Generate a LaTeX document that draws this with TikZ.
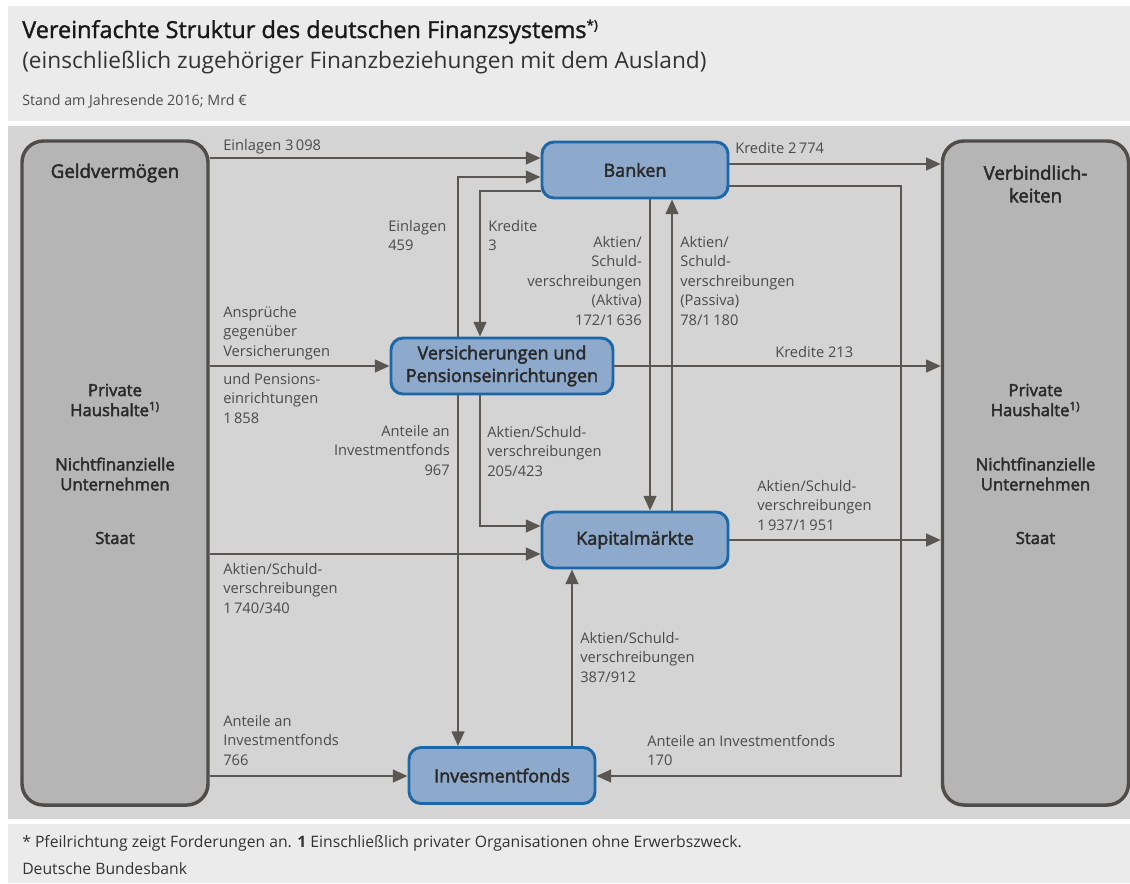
\documentclass[tikz,border=0pt]{standalone}
\usepackage{fontspec}
\setmainfont{Open Sans}
\newfontfamily\sbf[FakeBold=2.5]{Open Sans}
\newfontfamily\tbf[FakeBold=1.5]{Open Sans}
\usetikzlibrary{arrows.meta}
\definecolor{panelc}{HTML}{D4D4D4}
\definecolor{headc}{HTML}{EBEBEB}
\definecolor{grayfill}{HTML}{B5B5B5}
\definecolor{grayline}{HTML}{4F4D4A}
\definecolor{bluefill}{HTML}{8DA9CC}
\definecolor{blueline}{HTML}{1B67A7}
\definecolor{arrc}{HTML}{5A5651}
\definecolor{lblc}{HTML}{4A4A4A}
\definecolor{nodetxt}{HTML}{2A2A2A}
\tikzset{
  arr/.style={draw=arrc, line width=1.7pt, -{Triangle[length=11pt,width=9.5pt]}},
  lbl/.style={inner sep=0pt, text=lblc, font=\fontsize{11}{14.6}\selectfont, align=left, anchor=north west},
  lblr/.style={lbl, align=right, anchor=north east},
  bluebox/.style={draw=blueline, fill=bluefill, line width=2.2pt, rounded corners=9pt,
    minimum width=139.5pt, minimum height=42pt, text=nodetxt, align=center,
    font=\sbf\fontsize{13.5}{17}\selectfont},
  graybox/.style={draw=grayline, fill=grayfill, line width=2.6pt, rounded corners=16pt,
    minimum width=139.5pt, minimum height=498pt},
  boxtxt/.style={text=nodetxt, align=center, font=\sbf\fontsize{12.5}{15}\selectfont, inner sep=0pt}
}
\begin{document}
\begin{tikzpicture}[x=0.75pt,y=-0.75pt]
\useasboundingbox (0,0) rectangle (1130,883);
\fill[white] (0,0) rectangle (1130,883);
\fill[headc] (8,6) rectangle (1130,121);
\fill[panelc] (8,126) rectangle (1130,819);
\fill[headc] (8,824) rectangle (1130,883);

% title
\node[anchor=base west, inner sep=0pt, text=black!90, font=\tbf\fontsize{17.6}{20}\selectfont] (title) at (22,38)
  {Vereinfachte Struktur des deutschen Finanzsystems\textsuperscript{\fontsize{10}{10}\selectfont *)}};
\node[anchor=base west, inner sep=0pt, text=black!80, font=\fontsize{17}{20}\selectfont] (subtitle) at (22,68)
  {(einschließlich zugehöriger Finanzbeziehungen mit dem Ausland)};
\node[anchor=base west, inner sep=0pt, text=black!70, font=\fontsize{10.7}{12}\selectfont] (stand) at (22,105)
  {Stand am Jahresende 2016; Mrd €};

% big boxes
\node[graybox] (gv) at (115,473) {};
\node[graybox] (vb) at (1035.5,473) {};
\node[boxtxt, font=\sbf\fontsize{14}{17}\selectfont] (gvt) at (115,173) {Geldvermögen};
\node[boxtxt] (gvph) at (115,400) {Private\\Haushalte\textsuperscript{1)}};
\node[boxtxt] (gvnu) at (115,474) {Nichtfinanzielle\\Unternehmen};
\node[boxtxt] (gvst) at (115,538) {Staat};
\node[boxtxt, font=\sbf\fontsize{14}{17}\selectfont] (vbt) at (1035.5,184) {Verbindlich-\\keiten};
\node[boxtxt] (vbph) at (1035.5,400) {Private\\Haushalte\textsuperscript{1)}};
\node[boxtxt] (vbnu) at (1035.5,474) {Nichtfinanzielle\\Unternehmen};
\node[boxtxt] (vbst) at (1035.5,538) {Staat};

% blue nodes
\node[bluebox] (banken) at (635,170) {Banken};
\node[bluebox, minimum width=166.5pt] (vers) at (502,366) {Versicherungen und\\Pensionseinrichtungen};
\node[bluebox] (kap) at (635,540) {Kapitalmärkte};
\node[bluebox] (inv) at (502,775.5) {Invesmentfonds};

% level coordinates
\coordinate (yA) at (0,158);
\coordinate (yB) at (0,164);
\coordinate (yC) at (0,186);
\coordinate (yD) at (0,776);
\coordinate (yE) at (0,177);
\coordinate (yF) at (0,191);
\coordinate (yG) at (0,526);
\coordinate (yJ) at (0,554);
\coordinate (xR) at (901,0);
\coordinate (xE) at (458,0);
\coordinate (xF) at (480,0);
\coordinate (xH) at (650,0);
\coordinate (xI) at (672,0);
\coordinate (xK) at (572,0);

% connectors
\draw[arr] (gv.east |- yA) -- (banken.west |- yA);
\draw[arr] (banken.east |- yB) -- (vb.west |- yB);
\draw[arr] (banken.east |- yC) -- (xR |- yC) -- (xR |- yD) -- (inv.east |- yD);
\draw[arr] (vers.north -| xE) -- (xE |- yE) -- (banken.west |- yE);
\draw[arr] (banken.west |- yF) -- (xF |- yF) -- (vers.north -| xF);
\draw[arr] (vers.south -| xE) -- (inv.north -| xE);
\draw[arr] (vers.south -| xF) -- (xF |- yG) -- (kap.west |- yG);
\draw[arr] (banken.south -| xH) -- (kap.north -| xH);
\draw[arr] (kap.north -| xI) -- (banken.south -| xI);
\draw[arr] (gv.east |- vers) -- (vers.west);
\draw[arr] (vers.east) -- (vb.west |- vers);
\draw[arr] (gv.east |- yJ) -- (kap.west |- yJ);
\draw[arr] (kap.east) -- (vb.west |- kap);
\draw[arr] (inv.north -| xK) -- (kap.south -| xK);
\draw[arr] (gv.east |- yD) -- (inv.west |- yD);

% labels
\node[lbl] (l1) at (223,139) {Einlagen 3\,098};
\node[lbl] (l2) at (735,142) {Kredite 2\,774};
\node[lbl] (l3) at (388,220) {Einlagen\\459};
\node[lbl] (l4) at (488,220) {Kredite\\3};
\node[lblr] (l5) at (642,236) {Aktien/\\Schuld-\\verschreibungen\\(Aktiva)\\172/1\,636};
\node[lbl] (l6) at (680,236) {Aktien/\\Schuld-\\verschreibungen\\(Passiva)\\78/1\,180};
\node[lbl] (l7) at (223,306) {Ansprüche\\gegenüber\\Versicherungen};
\node[lbl] (l8) at (223,373) {und Pensions-\\einrichtungen\\1\,858};
\node[lbl] (l9) at (775,346) {Kredite 213};
\node[lblr] (l10) at (450,425) {Anteile an\\Investmentfonds\\967};
\node[lbl] (l11) at (487,426) {Aktien/Schuld-\\verschreibungen\\205/423};
\node[lbl] (l12) at (757,480) {Aktien/Schuld-\\verschreibungen\\1\,937/1\,951};
\node[lbl] (l13) at (223,563) {Aktien/Schuld-\\verschreibungen\\1\,740/340};
\node[lbl] (l14) at (580,632) {Aktien/Schuld-\\verschreibungen\\387/912};
\node[lbl] (l15) at (647,735) {Anteile an Investmentfonds\\170};
\node[lbl] (l16) at (223,715) {Anteile an\\Investmentfonds\\766};

% footer
\node[anchor=base west, inner sep=0pt, text=black!80, font=\fontsize{11.8}{13}\selectfont] (fn1) at (22,847)
  {* Pfeilrichtung zeigt Forderungen an. {\bfseries 1} Einschließlich privater Organisationen ohne Erwerbszweck.};
\node[anchor=base west, inner sep=0pt, text=black!80, font=\fontsize{11.8}{13}\selectfont] (fn2) at (22,874)
  {Deutsche Bundesbank};
\end{tikzpicture}
\end{document}
